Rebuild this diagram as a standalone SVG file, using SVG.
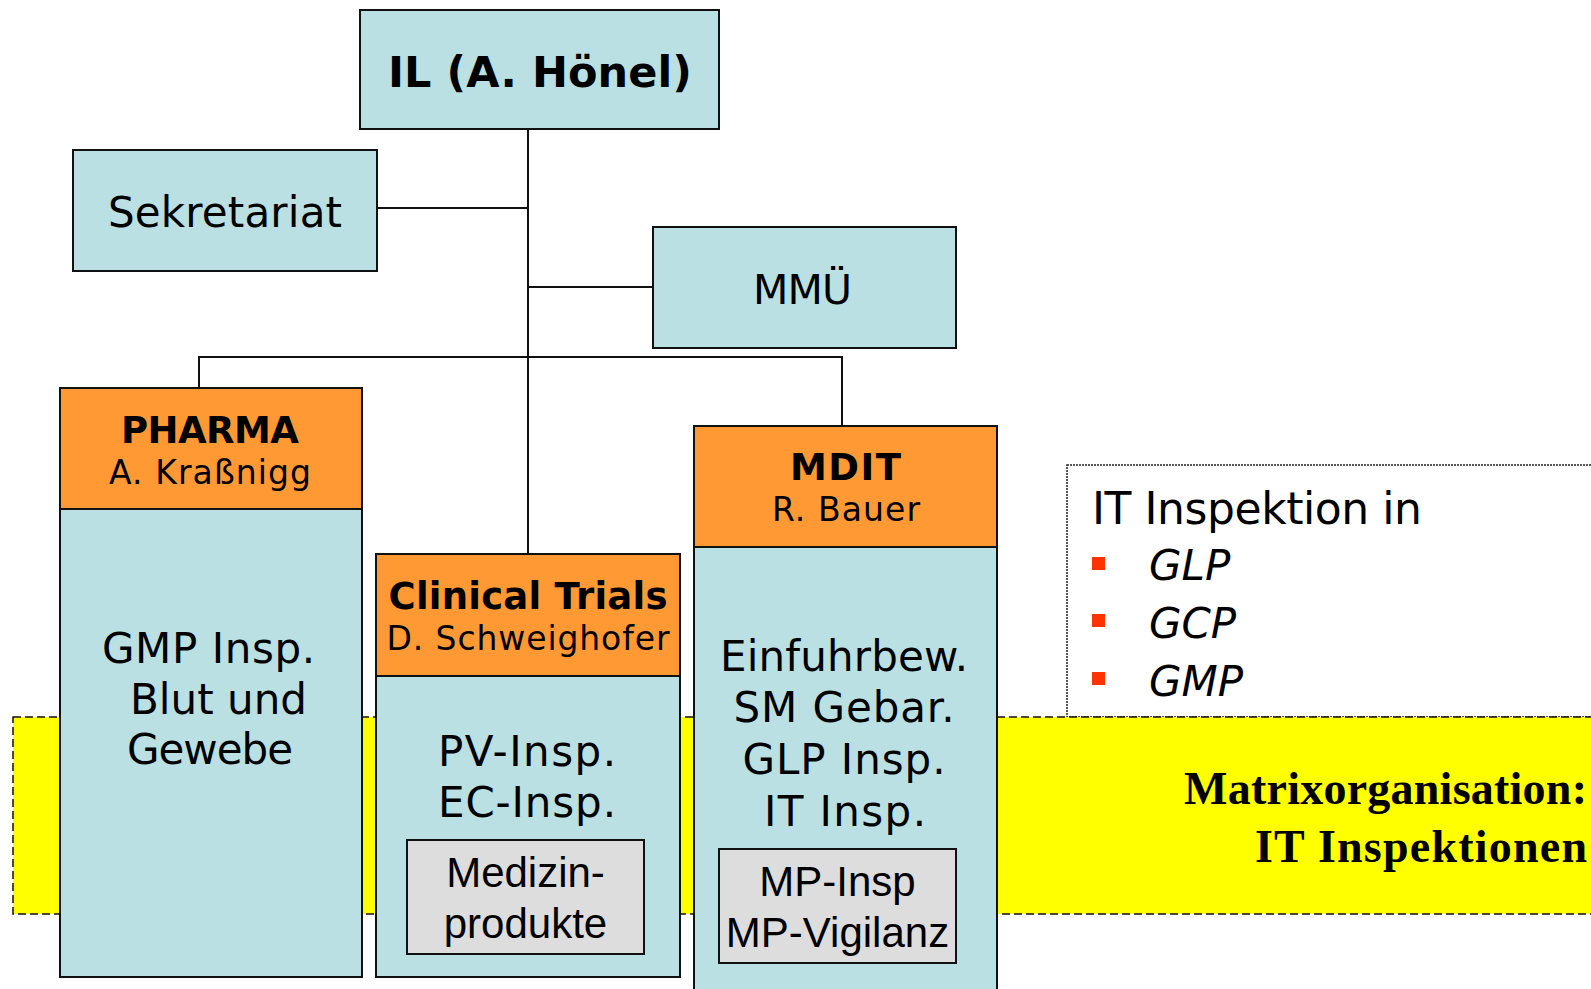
<svg xmlns="http://www.w3.org/2000/svg" width="1591" height="989" viewBox="0 0 1591 989">
<style>
.box{fill:#BBE0E3;stroke:#111;stroke-width:2}
.hdr{fill:#FF9933;stroke:#111;stroke-width:2}
.gray{fill:#DDDDDD;stroke:#111;stroke-width:2}
.con{fill:none;stroke:#111;stroke-width:2}
.t{font-family:"DejaVu Sans",Verdana,sans-serif;font-size:42px;fill:#000;text-anchor:middle}
.b{font-family:"DejaVu Sans",Verdana,sans-serif;font-weight:bold;font-size:37px;fill:#000;text-anchor:middle}
.s{font-family:"DejaVu Sans",Verdana,sans-serif;font-size:33px;fill:#000;text-anchor:middle}
.a{font-family:"Liberation Sans",Arial,sans-serif;font-size:42px;fill:#000;text-anchor:middle}
.m{font-family:"Liberation Serif","Times New Roman",serif;font-weight:bold;font-size:46px;fill:#000;text-anchor:end}
.it{font-family:"DejaVu Sans",Verdana,sans-serif;font-style:italic;font-size:42px;fill:#000}
.bul{fill:#FF3300}
</style>

<g id="legend">
<rect x="1067" y="465" width="560" height="252" fill="#fff" stroke="#222" stroke-width="1.5" stroke-dasharray="2 1"/>
<text x="1092" y="524" font-family="DejaVu Sans,Verdana,sans-serif" font-size="44" textLength="330">IT Inspektion in</text>
<rect class="bul" x="1092" y="557" width="13" height="13"/>
<rect class="bul" x="1092" y="614" width="13" height="13"/>
<rect class="bul" x="1092" y="672" width="13" height="13"/>
<text class="it" x="1149" y="580">GLP</text>
<text class="it" x="1149" y="638">GCP</text>
<text class="it" x="1149" y="696">GMP</text>
</g>

<g id="matrix">
<rect x="13" y="717" width="1600" height="197" fill="#FFFF00" stroke="#111" stroke-width="1.5" stroke-dasharray="8 4"/>
<text class="m" x="1587" y="804" textLength="403">Matrixorganisation:</text>
<text class="m" x="1587" y="862" textLength="332">IT Inspektionen</text>
</g>

<g id="connectors">
<line class="con" x1="528" y1="129" x2="528" y2="554"/>
<line class="con" x1="377" y1="208" x2="528" y2="208"/>
<line class="con" x1="528" y1="287" x2="653" y2="287"/>
<polyline class="con" points="199,388 199,357 842,357 842,426"/>
</g>

<g id="il">
<rect class="box" x="360" y="10" width="359" height="119"/>
<text class="b" x="540" y="87" style="font-size:43px" textLength="304">IL (A. Hönel)</text>
</g>

<g id="sekretariat">
<rect class="box" x="73" y="150" width="304" height="121"/>
<text class="t" x="225" y="227" textLength="234">Sekretariat</text>
</g>

<g id="mmue">
<rect class="box" x="653" y="227" width="303" height="121"/>
<text class="t" x="802.5" y="304" style="font-size:41px" textLength="99">MMÜ</text>
</g>

<g id="pharma">
<rect class="box" x="60" y="509" width="302" height="468"/>
<rect class="hdr" x="60" y="388" width="302" height="121"/>
<text class="b" x="210" y="443" textLength="178">PHARMA</text>
<text class="s" x="210" y="484" textLength="202">A. Kraßnigg</text>
<text class="t" x="208.5" y="663" textLength="213">GMP Insp.</text>
<text class="t" x="218.5" y="714" textLength="177">Blut und</text>
<text class="t" x="210" y="764" textLength="166">Gewebe</text>
</g>

<g id="clinical">
<rect class="box" x="376" y="676" width="304" height="301"/>
<rect class="hdr" x="376" y="554" width="304" height="122"/>
<text class="b" x="528" y="609" textLength="279">Clinical Trials</text>
<text class="s" x="528" y="650" textLength="283">D. Schweighofer</text>
<text class="t" x="527" y="766" textLength="178">PV-Insp.</text>
<text class="t" x="527" y="817" textLength="178">EC-Insp.</text>
<rect class="gray" x="407" y="840" width="237" height="114"/>
<text class="a" x="525.5" y="887">Medizin-</text>
<text class="a" x="525.5" y="938">produkte</text>
</g>

<g id="mdit">
<rect class="box" x="694" y="547" width="303" height="460"/>
<rect class="hdr" x="694" y="426" width="303" height="121"/>
<text class="b" x="845.5" y="480" textLength="111">MDIT</text>
<text class="s" x="846" y="521" textLength="148">R. Bauer</text>
<text class="t" x="844" y="671" textLength="248">Einfuhrbew.</text>
<text class="t" x="844" y="722" textLength="221">SM Gebar.</text>
<text class="t" x="844" y="774" textLength="203">GLP Insp.</text>
<text class="t" x="845" y="826" textLength="162">IT Insp.</text>
<rect class="gray" x="719" y="849" width="237" height="114"/>
<text class="a" x="837.5" y="896">MP-Insp</text>
<text class="a" x="837.5" y="947">MP-Vigilanz</text>
</g>
</svg>
